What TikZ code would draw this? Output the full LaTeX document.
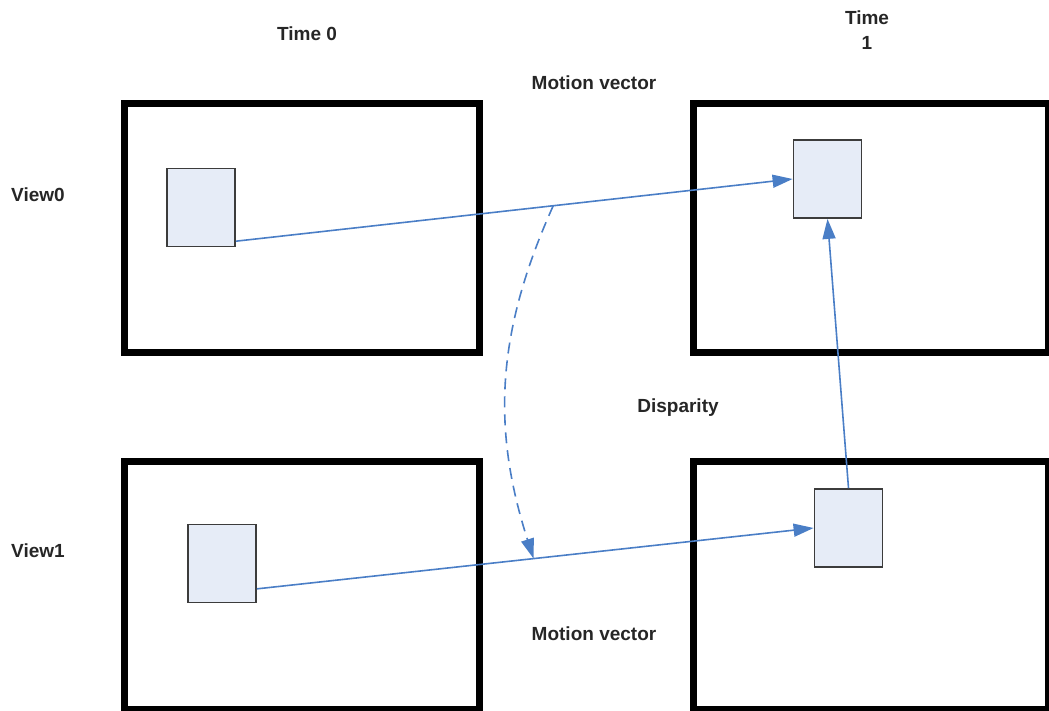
\documentclass[tikz,border=0pt]{standalone}
\usepackage{fontspec}
\setmainfont{Liberation Sans}
\usetikzlibrary{arrows.meta}
\definecolor{mvblue}{HTML}{4A7EC6}
\definecolor{blockfill}{HTML}{E6ECF7}
\definecolor{blockline}{HTML}{3C3C3C}
\definecolor{labelgray}{HTML}{262626}
\tikzset{
  frame/.style={draw,line width=7pt,minimum width=355pt,minimum height=248pt,inner sep=0pt},
  block/.style={draw=blockline,fill=blockfill,line width=1.8pt,minimum width=68pt,minimum height=78pt,inner sep=0pt},
  lbl/.style={text=labelgray,font=\fontsize{19}{25}\selectfont\bfseries,align=center,inner sep=0pt},
  mv/.style={draw=mvblue,line width=1.6pt,-{Triangle[length=20pt,width=13pt]}},
}
\begin{document}
\begin{tikzpicture}[x=1pt,y=-1pt]
  \useasboundingbox (0,0) rectangle (1049,711);
  \clip (0,0) rectangle (1049,711);
  \node[frame] (f00) at (302,228) {};
  \node[frame] (f01) at (871,228) {};
  \node[frame] (f10) at (302,585) {};
  \node[frame] (f11) at (871,585) {};
  \node[block] (b00) at (201,207.5) {};
  \node[block] (b01) at (827.5,179) {};
  \node[block] (b10) at (222,563.5) {};
  \node[block] (b11) at (848.5,528) {};
  \node[lbl] (t0) at (307,34) {Time 0};
  \node[lbl] (t1) at (867,30) {Time\\1};
  \node[lbl] (v0) at (38,195) {View0};
  \node[lbl] (v1) at (38,551) {View1};
  \node[lbl] (mvtop) at (594,83) {Motion vector};
  \node[lbl] (mvbot) at (594,634) {Motion vector};
  \node[lbl] (disp) at (678,408) {Disparity};
  \draw[mv] (b00.-44) -- coordinate[pos=0.57] (m0) (b01.west);
  \draw[mv] (b10.-36) -- coordinate[pos=0.497] (m1) (b11.west);
  \draw[mv] (b11.north) -- (b01.south);
  \draw[mv,dash pattern=on 11pt off 7pt] (m0) to[bend right=21] (m1);
\end{tikzpicture}
\end{document}
